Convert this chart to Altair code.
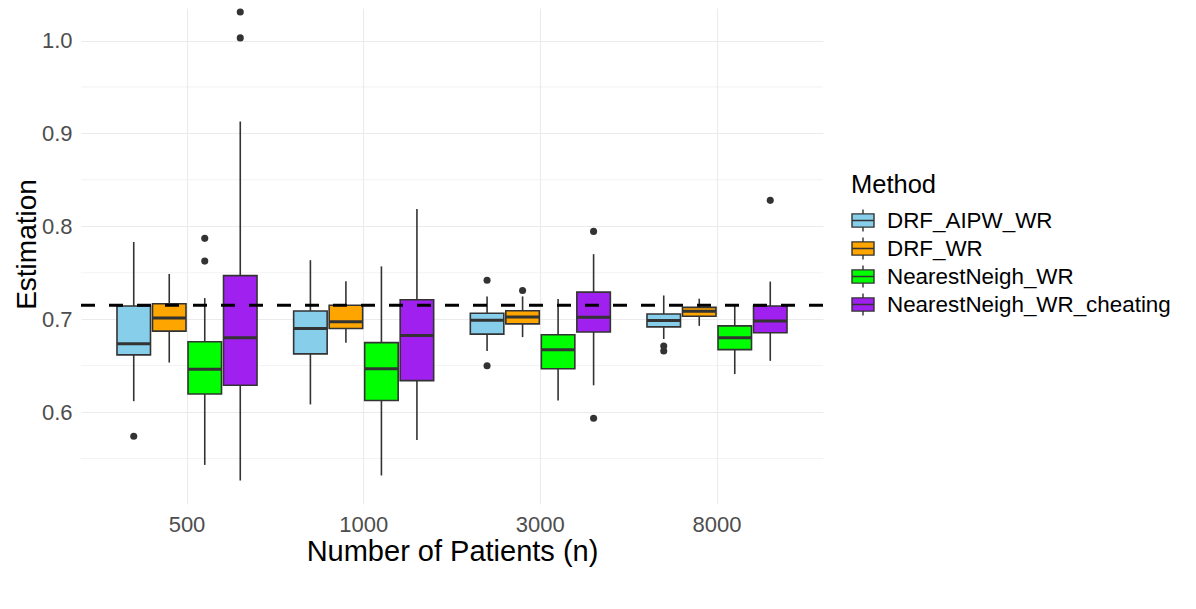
import altair as alt
import pandas as pd

groups = ["500", "1000", "3000", "8000"]
methods = ["DRF_AIPW_WR", "DRF_WR", "NearestNeigh_WR", "NearestNeigh_WR_cheating"]
colors = ["#87CEEB", "#FFA500", "#00FF00", "#A020F0"]

# box statistics, group-major, methods in order above
lower = [0.6117, 0.6533, 0.5431, 0.5264,
         0.6082, 0.6747, 0.5317, 0.5698,
         0.6658, 0.6807, 0.6125, 0.6288,
         0.6786, 0.6928, 0.6409, 0.6551]
q1 = [0.6615, 0.6871, 0.6195, 0.6288,
      0.6626, 0.6899, 0.6125, 0.6338,
      0.6839, 0.6949, 0.6466, 0.6861,
      0.6917, 0.7031, 0.6672, 0.6853]
median = [0.6736, 0.7013, 0.6462, 0.6800,
          0.6899, 0.6971, 0.6466, 0.6825,
          0.6988, 0.7024, 0.6672, 0.7021,
          0.6985, 0.7084, 0.6800, 0.6981]
q3 = [0.7141, 0.7166, 0.6757, 0.7469,
      0.7088, 0.7149, 0.6747, 0.7209,
      0.7063, 0.7091, 0.6832, 0.7291,
      0.7056, 0.7127, 0.6928, 0.7141]
upper = [0.7831, 0.7486, 0.7227, 0.9129,
         0.7635, 0.7408, 0.7568, 0.8187,
         0.7245, 0.7245, 0.7216, 0.7700,
         0.7255, 0.7220, 0.7141, 0.7405]

out_group = ["500", "500", "500", "500", "500",
             "3000", "3000", "3000", "3000", "3000",
             "8000", "8000", "8000"]
out_method = ["DRF_AIPW_WR", "NearestNeigh_WR", "NearestNeigh_WR",
              "NearestNeigh_WR_cheating", "NearestNeigh_WR_cheating",
              "DRF_AIPW_WR", "DRF_AIPW_WR", "DRF_WR",
              "NearestNeigh_WR_cheating", "NearestNeigh_WR_cheating",
              "DRF_AIPW_WR", "DRF_AIPW_WR", "NearestNeigh_WR_cheating"]
out_value = [0.574, 0.787, 0.7625, 1.0306, 1.0028,
             0.7419, 0.6498, 0.7309, 0.7945, 0.5933,
             0.6711, 0.6658, 0.8279]

true_value = 0.715
major_ticks = [0.6, 0.7, 0.8, 0.9, 1.0]
minor_ticks = [0.55, 0.65, 0.75, 0.85, 0.95]

FONT = "Liberation Sans"

box_df = pd.DataFrame({
    "n": [g for g in groups for _ in methods],
    "Method": [m for _ in groups for m in methods],
    "lower": lower, "q1": q1, "median": median, "q3": q3, "upper": upper,
})
out_df = pd.DataFrame({"n": out_group, "Method": out_method, "value": out_value})
minor_df = pd.DataFrame({"v": minor_ticks})

xscale = alt.Scale(domain=groups, paddingInner=0.196, paddingOuter=0.198)
xoff_scale = alt.Scale(domain=methods, paddingInner=0.0565, paddingOuter=0.0283)
yscale = alt.Scale(domain=[0.501, 1.035], nice=False, zero=False)

X = alt.X("n:N", scale=xscale, sort=groups,
          axis=alt.Axis(title="Number of Patients (n)", bandPosition=0.5, labelAngle=0,
                        grid=True, gridColor="#EBEBEB", gridWidth=1.1,
                        domain=False, ticks=False, labelFontSize=22, labelColor="#4D4D4D",
                        labelFont=FONT, labelPadding=10, titleFont=FONT, titleFontSize=29,
                        titleFontWeight="normal", titleColor="#000000", titlePadding=2))
XO = alt.XOffset("Method:N", scale=xoff_scale, sort=methods)

legend_shape = "M-1,-0.6H1V0.6H-1Z M-1,0H1 M0,-0.6V-1 M0,0.6V1"

whisk = alt.Chart(box_df).mark_rule(color="#333333", strokeWidth=1.6).encode(
    x=X, xOffset=XO,
    y=alt.Y("lower:Q", scale=yscale,
            axis=alt.Axis(title="Estimation", values=major_ticks, format=".1f",
                          grid=True, gridColor="#EBEBEB", gridWidth=1.1,
                          domain=False, ticks=False, labelFontSize=22, labelColor="#4D4D4D",
                          labelFont=FONT, labelPadding=9, titleFont=FONT, titleFontSize=28,
                          titleFontWeight="normal", titleColor="#000000",
                          titleX=-46, titleY=236, titleBaseline="alphabetic",
                          titleAlign="center", titleAngle=270)),
    y2="upper:Q",
)

minor = alt.Chart(minor_df).mark_rule(color="#EBEBEB", strokeWidth=0.6).encode(
    y=alt.Y("v:Q", scale=yscale),
    x=alt.value(0), x2=alt.value(742),
)

boxes = alt.Chart(box_df).mark_bar(stroke="#333333", strokeWidth=1.6).encode(
    x=X, xOffset=XO,
    y=alt.Y("q1:Q", scale=yscale),
    y2="q3:Q",
    color=alt.Color("Method:N", sort=methods,
                    scale=alt.Scale(domain=methods, range=colors),
                    legend=alt.Legend(title="Method", orient="none", legendX=770, legendY=165,
                                      symbolType=legend_shape, symbolSize=484,
                                      symbolStrokeColor="#333333", symbolStrokeWidth=1.4,
                                      symbolOpacity=1, labelLimit=500,
                                      labelFont=FONT, labelFontSize=22.4, labelColor="#000000",
                                      labelOffset=12, rowPadding=0,
                                      titleFont=FONT, titleFontSize=25.5,
                                      titleFontWeight="normal", titleColor="#000000",
                                      titlePadding=10, padding=0)),
)

med = alt.Chart(box_df).mark_tick(color="#333333", thickness=3, size=33.5, orient="horizontal",
                                  opacity=1).encode(
    x=X, xOffset=XO,
    y=alt.Y("median:Q", scale=yscale),
)

pts = alt.Chart(out_df).mark_circle(color="#333333", size=50, opacity=1).encode(
    x=X, xOffset=XO,
    y=alt.Y("value:Q", scale=yscale),
)

ref = alt.Chart(pd.DataFrame({"t": [true_value]})).mark_rule(
    color="#000000", strokeWidth=3, strokeDash=[14, 14]).encode(
    y=alt.Y("t:Q", scale=yscale),
    x=alt.value(0), x2=alt.value(742),
)

chart = alt.layer(minor, whisk, boxes, med, pts, ref).properties(
    width=742, height=496,
    autosize=alt.AutoSizeParams(type="none"),
    padding={"left": 73, "top": 0, "right": 365, "bottom": 90},
).configure(font=FONT).configure_view(strokeWidth=0, stroke="transparent")

chart.save("out.html", embed_options={"renderer": "svg", "actions": False})
